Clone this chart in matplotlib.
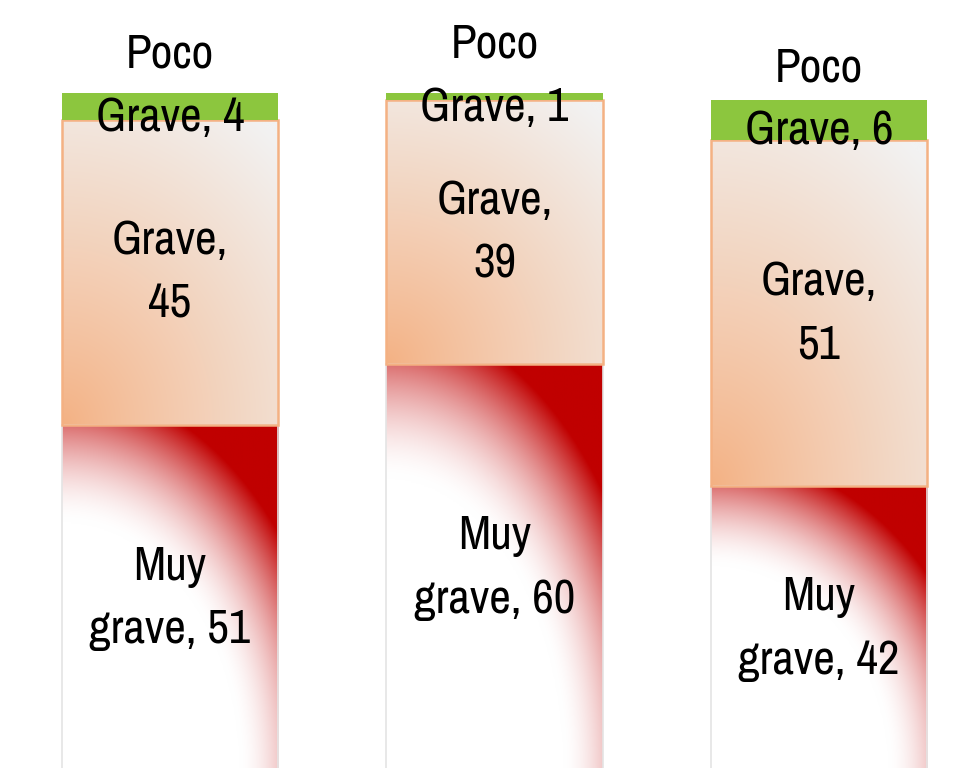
import numpy as np
import matplotlib
matplotlib.use('Agg')
import matplotlib.pyplot as plt
from matplotlib.colors import to_rgb

# Datos (porcentaje por nivel de gravedad)
grupos = ['Grupo 1', 'Grupo 2', 'Grupo 3']
muy_grave = [51, 60, 42]
grave = [45, 39, 51]
poco_grave = [4, 1, 6]

# Estilo
plt.rcParams['font.family'] = ['Archivo Narrow', 'DejaVu Sans']
FS = 34
LS = 1.58

COLOR_VERDE = '#8CC63E'
COLOR_NARANJA = '#F4B183'
COLOR_GRIS = '#F2F2F2'
COLOR_ROJO = '#C00000'


def relleno_radial(ax, barra, c0, c1, a, b, r0, w, p):
    # degradado radial (elíptico) desde la esquina inferior izquierda
    x0, y0 = barra.get_x(), barra.get_y()
    ancho, alto = barra.get_width(), barra.get_height()
    u = np.linspace(0, 1, 300)
    U, V = np.meshgrid(u, u)
    r = np.hypot(U / a, V / b)
    t = np.clip((r - r0) / w, 0, 1) ** p
    t = t[..., None]
    img = (1 - t) * np.array(to_rgb(c0)) + t * np.array(to_rgb(c1))
    im = ax.imshow(img, extent=(x0, x0 + ancho, y0, y0 + alto), origin='lower',
                   aspect='auto', interpolation='bilinear', zorder=1)
    im.set_clip_path(barra)


fig = plt.figure(figsize=(9.72, 7.68), dpi=100)
ax = fig.add_axes([0, 0, 1, 1])

x = np.arange(len(grupos))
ancho = 0.666
base_grave = np.array(muy_grave)
base_poco = base_grave + np.array(grave)

barras_muy = ax.bar(x, muy_grave, width=ancho, color='none',
                    edgecolor='#E4E4E4', linewidth=1.2, zorder=2)
barras_grave = ax.bar(x, grave, width=ancho, bottom=base_grave, color='none',
                      edgecolor=COLOR_NARANJA, linewidth=1.8, zorder=2)
barras_poco = ax.bar(x, poco_grave, width=ancho, bottom=base_poco,
                     color=COLOR_VERDE, linewidth=0, zorder=2)

for b in barras_muy:
    relleno_radial(ax, b, '#FFFFFF', COLOR_ROJO, 0.82, 0.72, 1.0, 0.55, 1.7)
for b in barras_grave:
    relleno_radial(ax, b, COLOR_NARANJA, COLOR_GRIS, 1.5, 1.25, 0.0, 1.0, 0.9)

# Etiquetas
for i in range(len(grupos)):
    ax.text(x[i], muy_grave[i] / 2, f'Muy\ngrave, {muy_grave[i]}',
            ha='center', va='center', fontsize=FS, linespacing=LS, zorder=5)
    ax.text(x[i], base_grave[i] + grave[i] / 2, f'Grave,\n{grave[i]}',
            ha='center', va='center', fontsize=FS, linespacing=LS, zorder=5)
    ax.annotate(f'Poco\nGrave, {poco_grave[i]}',
                xy=(x[i], base_poco[i] + poco_grave[i] / 2),
                xytext=(0, 15), textcoords='offset points',
                ha='center', va='center', fontsize=FS, linespacing=LS, zorder=5)

ax.set_xlim(-0.524, 2.4715)
ax.set_ylim(0.44, 113.7)
ax.axis('off')

fig.savefig('out.png', dpi=100, facecolor='white')
